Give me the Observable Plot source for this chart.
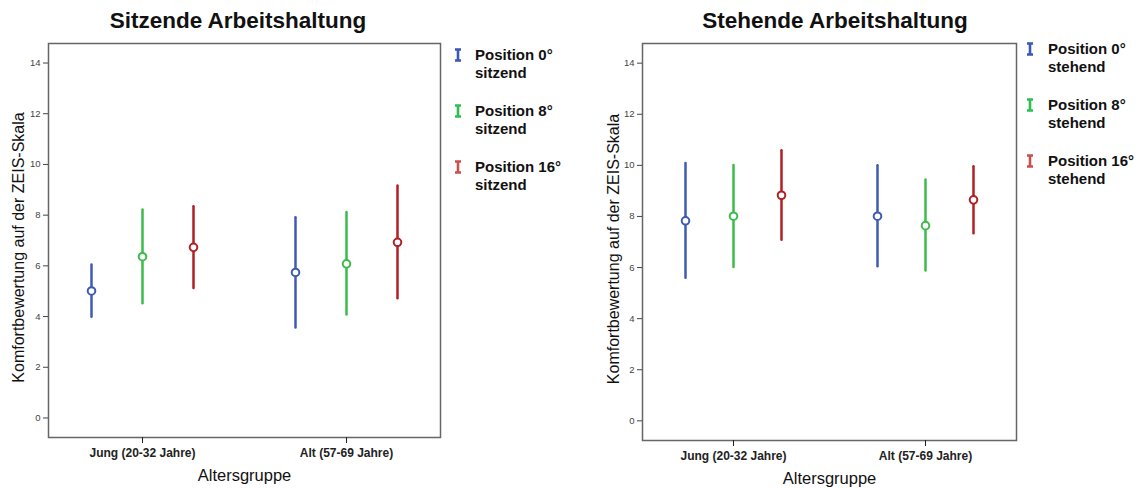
<!DOCTYPE html>
<html><head><meta charset="utf-8">
<script src="https://cdn.jsdelivr.net/npm/d3@7"></script>
<script src="https://cdn.jsdelivr.net/npm/@observablehq/plot@0.6"></script>
<style>
body{margin:0;background:#fff;font-family:"Liberation Sans",Arial,sans-serif;}
#wrap{position:relative;width:1141px;height:488px;overflow:hidden;background:#fff}
.panel{position:absolute;top:0}
.title{position:absolute;top:8px;width:400px;font-weight:bold;font-size:22.5px;line-height:26px;text-align:center;color:#111}
.leg{position:absolute;font-weight:bold;font-size:15px;line-height:18px;color:#111;white-space:nowrap}
.sym{position:absolute}
</style></head>
<body><div id="wrap"></div>
<script>
// ---- data ----
const groups = ["Jung (20-32 Jahre)", "Alt (57-69 Jahre)"];
const positions = ["0°", "8°", "16°"];
const colors = ["#3F5AB4", "#3DBB4A", "#B21F24"];
const legendColors = ["#3A55B4", "#2DBE50", "#C8504F"];

// Sitzende Arbeitshaltung: [Jung, Alt] per position
const sitzMean = [[5.01, 5.74], [6.36, 6.08], [6.73, 6.93]];
const sitzLow  = [[3.97, 3.55], [4.51, 4.06], [5.11, 4.70]];
const sitzHigh = [[6.03, 7.90], [8.20, 8.10], [8.33, 9.15]];

// Stehende Arbeitshaltung
const stehMean = [[7.83, 8.01], [8.01, 7.64], [8.83, 8.65]];
const stehLow  = [[5.58, 6.03], [6.00, 5.86], [7.07, 7.32]];
const stehHigh = [[10.07, 9.98], [9.99, 9.43], [10.57, 9.95]];

const yTicks = [0, 2, 4, 6, 8, 10, 12, 14];

function rows(mean, low, high) {
  const out = [];
  groups.forEach((g, gi) => positions.forEach((p, pi) => {
    out.push({key: gi + "|" + p, group: g, pos: p, mean: mean[pi][gi], lo: low[pi][gi], hi: high[pi][gi]});
  }));
  return out;
}
const xDomain = [...positions.map(p => "0|" + p), "gap", ...positions.map(p => "1|" + p)];

function panel(data, o) {
  return Plot.plot({
    width: o.width, height: 488,
    marginLeft: o.ml, marginRight: o.mr, marginTop: 43, marginBottom: o.mb,
    style: {fontFamily: "'Liberation Sans', Arial, sans-serif", fontSize: "10px", background: "white"},
    x: {type: "point", domain: xDomain, padding: o.pad},
    y: {domain: [-0.77, 14.77]},
    color: {domain: positions, range: colors},
    marks: [
      Plot.frame({stroke: "#666", strokeWidth: 1.5}),
      Plot.axisY({ticks: yTicks, tickSize: 5, tickPadding: 3, fontSize: 9.5, color: "#444", label: null}),
      Plot.axisX({ticks: ["0|8°", "1|8°"], tickFormat: k => groups[+k[0]], tickSize: 6, tickPadding: 5,
                  fontSize: 12, fontWeight: "bold", color: "#222", label: null}),
      Plot.text(["Komfortbewertung auf der ZEIS-Skala"], {frameAnchor: "left", textAnchor: "middle", rotate: -90, dx: o.ydx, dy: 7, fontSize: 16, fill: "#111"}),
      Plot.text(["Altersgruppe"], {frameAnchor: "bottom", dy: 43, fontSize: 16.5, fill: "#111"}),
      Plot.ruleX(data, {x: "key", y1: "lo", y2: "hi", stroke: "pos", strokeWidth: 2.5, strokeLinecap: "round"}),
      Plot.dot(data, {x: "key", y: "mean", stroke: "pos", fill: "white", r: 3.8, strokeWidth: 2})
    ]
  });
}

const wrap = document.getElementById("wrap");
function place(el, left) { el.classList.add("panel"); el.style.left = left + "px"; wrap.appendChild(el); }

place(panel(rows(sitzMean, sitzLow, sitzHigh), {width: 445, ml: 48, mr: 5, mb: 51, pad: 0.84, ydx: -30}), 0);
place(panel(rows(stehMean, stehLow, stehHigh), {width: 420, ml: 42, mr: 4, mb: 48, pad: 0.86, ydx: -29}), 600);

function title(text, cx) {
  const d = document.createElement("div");
  d.className = "title"; d.textContent = text; d.style.left = (cx - 200) + "px";
  wrap.appendChild(d);
}
title("Sitzende Arbeitshaltung", 238);
title("Stehende Arbeitshaltung", 835);

function legend(suffix, symX, textX, tops) {
  positions.forEach((p, i) => {
    const s = document.createElementNS("http://www.w3.org/2000/svg", "svg");
    s.setAttribute("width", 8); s.setAttribute("height", 14);
    s.setAttribute("class", "sym");
    s.style.left = symX + "px"; s.style.top = (tops[i] + 2) + "px";
    s.innerHTML = `<path d="M1,1.5H7M4,1.5V12.5M1,12.5H7" stroke="${legendColors[i]}" stroke-width="2.6" fill="none"/>`;
    wrap.appendChild(s);
    const d = document.createElement("div");
    d.className = "leg";
    d.style.left = textX + "px"; d.style.top = tops[i] + "px";
    d.innerHTML = "Position " + p + "<br>" + suffix;
    wrap.appendChild(d);
  });
}
legend("sitzend", 454, 475, [46, 102, 158]);
legend("stehend", 1026, 1048, [40, 96, 152]);
</script></body></html>
